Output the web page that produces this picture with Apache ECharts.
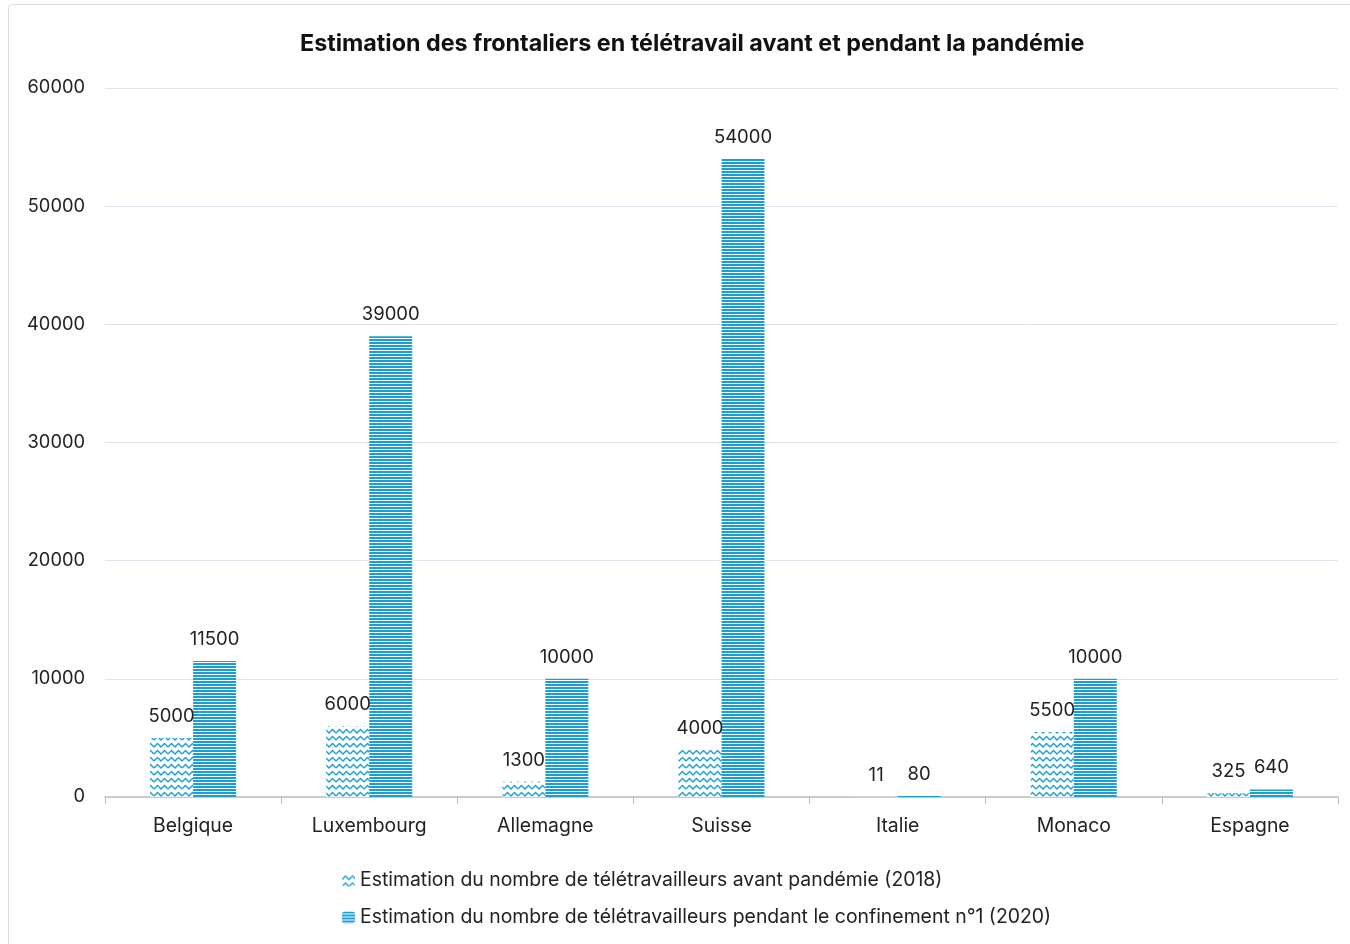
<!DOCTYPE html>
<html><head><meta charset="utf-8">
<script src="https://cdn.jsdelivr.net/npm/echarts@6/dist/echarts.min.js"></script>
<style>html,body{margin:0;padding:0;background:#fff}#c{width:1350px;height:944px}</style>
</head><body><div id="c"></div>
<script>
const categories = ['Belgique','Luxembourg','Allemagne','Suisse','Italie','Monaco','Espagne'];
const before2018 = [5000, 6000, 1300, 4000, 11, 5500, 325];
const during2020 = [11500, 39000, 10000, 54000, 80, 10000, 640];
const seriesNames = ['Estimation du nombre de télétravailleurs avant pandémie (2018)',
                     'Estimation du nombre de télétravailleurs pendant le confinement n°1 (2020)'];
const titleText = 'Estimation des frontaliers en télétravail avant et pendant la pandémie';

const BLUE = '#1a9fd4';
const FONT = 'Inter';
function stripePattern(){
  const c = document.createElement('canvas'); c.width = 4; c.height = 3;
  const g = c.getContext('2d');
  g.fillStyle = '#fff'; g.fillRect(0,0,4,3);
  g.fillStyle = BLUE; g.fillRect(0,0,4,2);
  return c;
}
function wavePattern(){
  const c = document.createElement('canvas'); c.width = 14; c.height = 7;
  const g = c.getContext('2d');
  g.fillStyle = '#fff'; g.fillRect(0,0,14,7);
  g.strokeStyle = BLUE; g.lineWidth = 1.4;
  g.beginPath();
  g.moveTo(0,5); g.lineTo(3.5,1.5); g.lineTo(7,5); g.lineTo(10.5,1.5); g.lineTo(14,5);
  g.stroke();
  return c;
}
const chart = echarts.init(document.getElementById('c'));
const labelStyle = {show:true, position:'top', distance:12, color:'#222', fontSize:18.5, fontFamily:FONT};
chart.setOption({
  animation:false,
  textStyle:{fontFamily:FONT},
  graphic:[{type:'rect', shape:{x:8.5,y:4.5,width:1360,height:960,r:3}, style:{fill:'none',stroke:'#d9dde8',lineWidth:1}, silent:true}],
  title:{text:titleText, left:295, top:27, textStyle:{fontSize:23.3, fontWeight:'bold', color:'#111', fontFamily:FONT}},
  grid:{left:105, right:12, top:88, bottom:147},
  legend:{orient:'vertical', left:337, top:866, itemGap:18, itemWidth:13, itemHeight:12,
    textStyle:{fontSize:19.4, color:'#222', fontFamily:FONT}, data:seriesNames},
  xAxis:{type:'category', data:categories,
    axisLine:{lineStyle:{color:'#bfbfbf', width:1.5}},
    axisTick:{show:true, length:7, lineStyle:{color:'#bfbfbf'}},
    axisLabel:{fontSize:19.4, color:'#222', margin:20, fontFamily:FONT}},
  yAxis:{type:'value', min:0, max:60000, interval:10000,
    axisLabel:{fontSize:18.3, color:'#222', margin:20, fontFamily:FONT, formatter:v=>String(v)},
    splitLine:{lineStyle:{color:'#dfe5ef'}}, axisLine:{show:false}, axisTick:{show:false}},
  series:[
    {name:seriesNames[0], type:'bar', data:before2018, barWidth:43, barGap:'0%',
     itemStyle:{color:{image:wavePattern(), repeat:'repeat'}}, label:labelStyle},
    {name:seriesNames[1], type:'bar', data:during2020, barWidth:43, barGap:'0%',
     itemStyle:{color:{image:stripePattern(), repeat:'repeat'}}, label:labelStyle}
  ]
});
</script></body></html>
